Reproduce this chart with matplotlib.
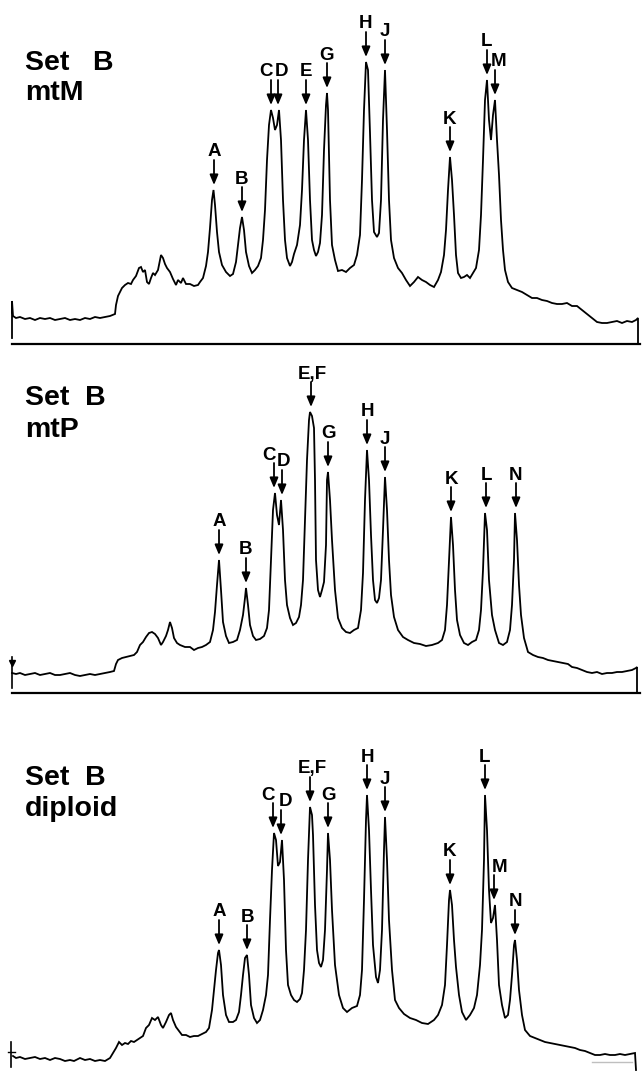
import numpy as np
import matplotlib
matplotlib.use("Agg")
import matplotlib.pyplot as plt

# ---------------- data (densitometer scans, x = migration position, y = density) -------------
scan_mtM = [(12, 6), (12, 43), (13, 28), (16, 26), (20, 27), (25, 25), (30, 26), (35, 24), (40, 26),
            (45, 25), (50, 26), (55, 24), (60, 25), (65, 26), (70, 24), (75, 25), (80, 24), (85, 26),
            (90, 25), (95, 27), (100, 26), (105, 27), (110, 28), (115, 30), (116, 39), (118, 48),
            (122, 56), (125, 59), (128, 61), (131, 60), (133, 64), (136, 68), (139, 76), (141, 77),
            (143, 72), (145, 74), (147, 62), (149, 60), (151, 66), (153, 71), (155, 69), (158, 74),
            (161, 89), (163, 86), (165, 80), (167, 76), (170, 72), (173, 65), (176, 59), (178, 64),
            (181, 61), (183, 66), (186, 60), (190, 60), (194, 58), (198, 59), (200, 62), (203, 66),
            (206, 78), (208, 92), (210, 116), (212, 144), (213.5, 154), (215, 139), (217, 112),
            (219, 92), (222, 79), (226, 72), (230, 68), (233, 70), (236, 82), (238, 99), (240, 116),
            (242, 127), (244, 114), (246, 92), (249, 78), (252, 71), (255, 74), (258, 78), (261, 86),
            (263, 104), (265, 134), (267, 184), (269, 219), (271, 234), (273, 226), (275, 214),
            (277, 219), (279, 234), (281, 204), (283, 144), (285, 104), (287, 86), (290, 78),
            (292, 82), (294, 90), (297, 99), (300, 119), (302, 154), (304, 204), (306, 234),
            (308, 204), (310, 144), (312, 104), (314, 94), (316, 88), (318, 92), (320, 101),
            (322, 129), (324, 194), (326, 239), (327, 251), (328, 234), (330, 144), (332, 99),
            (335, 84), (338, 73), (342, 74), (346, 72), (350, 76), (354, 79), (357, 89), (360, 109),
            (362, 164), (364, 234), (366, 282), (368, 274), (370, 211), (372, 144), (374, 112),
            (377, 107), (379, 111), (381, 144), (383, 224), (385, 274), (387, 214), (389, 144),
            (391, 104), (394, 86), (398, 76), (402, 71), (406, 64), (410, 58), (414, 62), (418, 67),
            (422, 64), (426, 62), (430, 59), (434, 57), (438, 64), (441, 72), (444, 89), (446, 114),
            (448, 154), (450, 187), (452, 164), (454, 129), (456, 89), (458, 71), (461, 66),
            (464, 67), (467, 69), (470, 66), (473, 71), (476, 76), (479, 94), (481, 129), (483, 184),
            (485, 244), (487, 264), (489, 224), (491, 204), (493, 229), (495, 244), (497, 204),
            (499, 169), (501, 124), (503, 94), (505, 74), (508, 62), (512, 56), (517, 54), (522, 52),
            (527, 49), (532, 46), (537, 46), (542, 44), (547, 43), (552, 41), (557, 40), (562, 40),
            (567, 41), (572, 38), (577, 38), (582, 34), (587, 30), (592, 26), (597, 22), (602, 21),
            (607, 21), (612, 22), (617, 23), (622, 21), (627, 23), (632, 22), (636, 24), (638, 26),
            (638, 0)]

scan_mtP = [(12, 20), (16, 19), (20, 20), (25, 18), (30, 19), (35, 20), (40, 18), (45, 19), (50, 20),
            (55, 18), (60, 18), (65, 19), (70, 20), (75, 18), (80, 17), (85, 18), (90, 19), (95, 18),
            (100, 19), (105, 20), (110, 21), (114, 22), (116, 29), (118, 33), (122, 35), (126, 36),
            (130, 37), (134, 38), (137, 41), (140, 48), (143, 51), (146, 56), (149, 60), (152, 61),
            (155, 59), (158, 55), (161, 48), (163, 51), (166, 57), (168, 63), (170, 71), (172, 65),
            (174, 55), (177, 50), (180, 48), (185, 46), (190, 46), (194, 43), (198, 45), (202, 46),
            (206, 48), (210, 51), (213, 63), (215, 81), (217, 108), (219, 133), (221, 103), (223, 71),
            (226, 57), (229, 50), (233, 51), (237, 53), (240, 63), (243, 78), (245, 95), (246, 105),
            (248, 88), (250, 68), (253, 57), (256, 53), (260, 54), (264, 57), (267, 65), (269, 83),
            (271, 133), (273, 183), (275, 200), (277, 178), (279, 168), (281, 193), (283, 163),
            (285, 113), (287, 88), (290, 75), (293, 68), (296, 70), (299, 76), (301, 88), (303, 113),
            (305, 173), (307, 233), (309, 273), (310, 281), (312, 277), (314, 265), (315, 213),
            (316, 133), (318, 103), (320, 96), (322, 103), (324, 111), (326, 148), (327, 213),
            (328, 221), (330, 193), (332, 153), (335, 103), (338, 75), (342, 65), (346, 61), (350, 60),
            (354, 63), (358, 65), (361, 83), (363, 120), (365, 193), (367, 243), (369, 213), (371, 158),
            (373, 113), (375, 93), (377, 90), (379, 95), (381, 113), (383, 163), (385, 216), (387, 183),
            (389, 133), (391, 98), (394, 76), (398, 63), (403, 56), (408, 53), (414, 50), (420, 49),
            (426, 47), (432, 48), (438, 50), (442, 53), (445, 63), (447, 88), (449, 133), (451, 176),
            (453, 148), (455, 103), (457, 73), (460, 58), (464, 50), (468, 48), (472, 51), (476, 53),
            (479, 63), (481, 83), (483, 123), (485, 180), (487, 163), (489, 113), (492, 78), (495, 63),
            (499, 50), (503, 48), (507, 51), (510, 63), (512, 88), (514, 133), (515, 180), (517, 153),
            (519, 108), (521, 78), (524, 55), (528, 41), (533, 38), (538, 36), (543, 35), (548, 33),
            (553, 32), (558, 31), (563, 30), (568, 29), (572, 26), (577, 25), (582, 23), (587, 21),
            (592, 20), (597, 21), (602, 19), (607, 20), (612, 20), (617, 21), (622, 21), (627, 22),
            (632, 23), (636, 25), (637, 26), (637, 1)]

scan_diploid = [(13, 12), (16, 10), (20, 11), (25, 9), (30, 10), (35, 11), (40, 9), (45, 10), (50, 8),
                (55, 10), (60, 9), (65, 7), (70, 8), (74, 7), (80, 10), (85, 8), (90, 9), (95, 7),
                (100, 8), (105, 7), (110, 10), (113, 15), (116, 20), (119, 26), (122, 23), (125, 25),
                (128, 24), (131, 27), (134, 26), (137, 28), (140, 30), (143, 32), (146, 40), (149, 43),
                (152, 50), (155, 48), (158, 51), (161, 43), (163, 40), (166, 46), (169, 53), (171, 55),
                (173, 48), (176, 41), (179, 37), (182, 33), (186, 33), (190, 31), (194, 32), (198, 32),
                (202, 34), (206, 36), (209, 40), (212, 58), (214, 78), (216, 98), (218, 115), (219, 118),
                (221, 103), (223, 73), (226, 53), (229, 46), (233, 46), (236, 48), (239, 56), (241, 73),
                (243, 93), (245, 110), (247, 113), (249, 93), (251, 63), (254, 50), (257, 45), (260, 48),
                (263, 58), (266, 73), (268, 93), (270, 148), (272, 198), (274, 235), (276, 228),
                (278, 202), (280, 206), (282, 228), (284, 188), (286, 118), (288, 83), (291, 73),
                (294, 68), (297, 66), (300, 69), (302, 75), (304, 98), (306, 138), (308, 208),
                (310, 261), (312, 253), (313, 233), (315, 163), (317, 118), (319, 105), (321, 101),
                (323, 108), (325, 138), (327, 198), (328, 235), (330, 208), (332, 158), (335, 103),
                (339, 73), (343, 60), (347, 56), (352, 60), (357, 62), (360, 73), (362, 98), (364, 168),
                (366, 248), (367, 273), (369, 238), (371, 178), (373, 123), (376, 91), (378, 85),
                (380, 98), (382, 138), (384, 218), (385, 251), (387, 208), (389, 148), (392, 98),
                (395, 68), (399, 60), (404, 54), (410, 50), (416, 48), (422, 45), (428, 44), (434, 48),
                (438, 53), (442, 63), (445, 83), (447, 123), (449, 168), (450, 178), (452, 163),
                (454, 128), (456, 101), (459, 73), (462, 56), (466, 48), (470, 53), (474, 60), (477, 73),
                (480, 103), (482, 138), (484, 208), (485, 273), (487, 238), (489, 178), (491, 145),
                (493, 150), (495, 163), (497, 128), (499, 83), (502, 63), (505, 50), (508, 53),
                (510, 68), (512, 93), (514, 123), (515, 128), (517, 108), (519, 78), (522, 53),
                (525, 38), (530, 32), (535, 30), (540, 28), (545, 26), (550, 25), (555, 24), (560, 23),
                (565, 22), (570, 21), (575, 20), (580, 18), (585, 17), (590, 15), (595, 13), (600, 13),
                (605, 14), (610, 13), (615, 13), (620, 14), (625, 13), (630, 14), (635, 15), (636, -2)]

peaks_mtM = ['A', 'B', 'C', 'D', 'E', 'G', 'H', 'J', 'K', 'L', 'M']
peakpos_mtM = [214, 242, 271, 278, 306, 327, 366, 385, 450, 487, 495]

peaks_mtP = ['A', 'B', 'C', 'D', 'E,F', 'G', 'H', 'J', 'K', 'L', 'N']
peakpos_mtP = [219, 246, 274, 282, 311, 328, 367, 385, 451, 486, 516]

peaks_diploid = ['A', 'B', 'C', 'D', 'E,F', 'G', 'H', 'J', 'K', 'L', 'M', 'N']
peakpos_diploid = [219, 247, 273, 281, 310, 328, 367, 385, 450, 485, 494, 515]

titles = [('Set   B', 'mtM'), ('Set  B', 'mtP'), ('Set  B', 'diploid')]

# ---------------- layout ----------------
W, H = 642, 1071
FONT = ['Liberation Sans', 'DejaVu Sans']
fig = plt.figure(figsize=(W / 100, H / 100), dpi=100)
fig.patch.set_facecolor('white')

panels = [
    dict(scan=scan_mtM, names=peaks_mtM, pos=peakpos_mtM, top=0, base=344, bottom=344,
         axis=True, title_y=(274, 244), dx={'C': -5, 'D': 4, 'M': 4}),
    dict(scan=scan_mtP, names=peaks_mtP, pos=peakpos_mtP, top=344, base=693, bottom=693,
         axis=True, title_y=(288, 256), dx={'C': -5, 'D': 1, 'E,F': 1}),
    dict(scan=scan_diploid, names=peaks_diploid, pos=peakpos_diploid, top=693, base=1068, bottom=1071,
         axis=False, title_y=(283, 252), dx={'C': -5, 'D': 5, 'E,F': 2, 'M': 6}),
]

GAP, ALEN, TXT = 5, 25, 3.5

for i, p in enumerate(panels):
    h_ax = p['bottom'] - p['top']
    ax = fig.add_axes([0, (H - p['bottom']) / H, 1, h_ax / H])
    ax.set_xlim(0, W)
    ax.set_ylim(-(p['bottom'] - p['base']), p['base'] - p['top'])
    ax.axis('off')

    xs = np.array([q[0] for q in p['scan']], dtype=float)
    ys = np.array([q[1] for q in p['scan']], dtype=float)
    ax.plot(xs, ys, color='black', lw=1.3, solid_joinstyle='miter', clip_on=False)

    if p['axis']:
        ax.plot([12, 640], [0, 0], color='black', lw=1.6, clip_on=False)

    # start marks of the recorder pen
    if i == 1:
        ax.plot([12, 12], [5, 36], color='black', lw=1.2)
        ax.plot([12], [30], marker='v', color='black', ms=4)
    if i == 2:
        ax.plot([11, 11], [1, 26], color='black', lw=1.2)
        ax.plot([8, 15], [16, 16], color='black', lw=1.0)
        ax.plot([592, 632], [6, 6], color='0.75', lw=1.0)

    # title
    t1, t2 = titles[i]
    ax.text(25, p['title_y'][0], t1, fontsize=20.5, fontweight='bold', family=FONT,
            ha='left', va='baseline')
    ax.text(25, p['title_y'][1], t2, fontsize=20.5, fontweight='bold', family=FONT,
            ha='left', va='baseline')

    # peak labels with arrows
    for name, x in zip(p['names'], p['pos']):
        sel = (xs >= x - 2.5) & (xs <= x + 2.5)
        peak = ys[sel].max()
        tip = peak + GAP
        tail = tip + ALEN
        ax.annotate('', xy=(x, tip), xytext=(x, tail),
                    arrowprops=dict(arrowstyle='-|>,head_length=0.6,head_width=0.25',
                                    color='black', lw=1.3, mutation_scale=10,
                                    shrinkA=0, shrinkB=0))
        ax.text(x + p['dx'].get(name, 0), tail + TXT, name, fontsize=13.5,
                fontweight='bold', family=FONT, ha='center', va='baseline')

fig.savefig('out.png', dpi=100, facecolor='white')
